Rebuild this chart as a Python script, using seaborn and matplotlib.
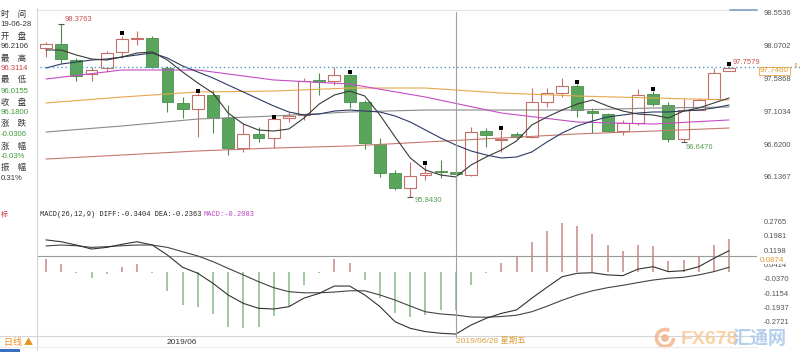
import numpy as np
import pandas as pd
import seaborn as sns
import matplotlib
matplotlib.use("Agg")
import matplotlib.pyplot as plt
import matplotlib.transforms as mtransforms
from matplotlib.lines import Line2D
from matplotlib.patches import Rectangle, Arc, Circle

# ---------------- data ----------------
opens = [98.022, 98.085, 97.850, 97.645, 97.729, 97.972, 98.161, 98.168, 97.738, 97.216,
         97.128, 97.338, 96.997, 96.566, 96.762, 96.704, 96.997, 97.045, 97.553, 97.547,
         97.631, 97.240, 96.616, 96.191, 95.971, 96.166, 96.228, 96.2106, 96.166, 96.811,
         96.682, 96.762, 96.727, 97.240, 97.363, 97.474, 97.104, 97.055, 96.811, 96.932,
         97.352, 97.191, 96.689, 97.118, 97.275, 97.689]
highs = [98.119, 98.3763, 97.875, 97.752, 97.982, 98.206, 98.275, 98.202, 97.763, 97.313,
         97.363, 97.411, 97.191, 96.923, 96.873, 96.986, 97.093, 97.582, 97.656, 97.752,
         97.645, 97.265, 96.704, 96.239, 96.361, 96.313, 96.386, 96.3114, 96.873, 96.850,
         96.825, 96.796, 97.436, 97.445, 97.582, 97.499, 97.143, 97.074, 96.971, 97.421,
         97.396, 97.240, 97.289, 97.289, 97.729, 97.7579]
lows = [97.899, 97.807, 97.543, 97.543, 97.679, 97.875, 98.070, 97.733, 97.093, 96.997,
        96.727, 96.777, 96.459, 96.507, 96.654, 96.562, 96.947, 96.972, 97.338, 97.484,
        97.143, 96.547, 96.141, 95.946, 95.843, 96.093, 96.118, 96.0155, 96.151, 96.581,
        96.507, 96.693, 96.715, 97.167, 97.313, 97.020, 96.777, 96.796, 96.752, 96.898,
        97.177, 96.654, 96.6476, 97.118, 97.275, 97.689]
closes = [98.085, 97.861, 97.621, 97.704, 97.949, 98.154, 98.168, 97.752, 97.231, 97.128,
          97.338, 96.997, 96.557, 96.762, 96.712, 96.982, 97.030, 97.543, 97.524, 97.631,
          97.240, 96.630, 96.200, 95.971, 96.151, 96.200, 96.2106, 96.1800, 96.800, 96.752,
          96.693, 96.727, 97.240, 97.363, 97.474, 97.118, 97.070, 96.811, 96.923, 97.338,
          97.206, 96.689, 97.118, 97.264, 97.665, 97.729]

ma5 = [97.997, 97.997, 97.924, 97.865, 97.850, 97.894, 97.953, 97.968, 97.850, 97.675,
       97.514, 97.367, 97.074, 96.913, 96.825, 96.810, 96.840, 97.001, 97.206, 97.338,
       97.396, 97.323, 97.045, 96.723, 96.415, 96.239, 96.166, 96.137, 96.312, 96.430,
       96.532, 96.664, 96.898, 97.016, 97.118, 97.206, 97.265, 97.177, 97.103, 97.059,
       97.045, 97.001, 97.103, 97.147, 97.221, 97.294]
ma10 = [97.733, 97.792, 97.821, 97.850, 97.865, 97.894, 97.924, 97.953, 97.880, 97.763,
        97.675, 97.587, 97.484, 97.382, 97.279, 97.177, 97.089, 97.045, 97.059, 97.103,
        97.118, 97.103, 97.089, 97.030, 96.942, 96.825, 96.708, 96.605, 96.518, 96.459,
        96.415, 96.430, 96.503, 96.649, 96.781, 96.884, 96.957, 97.016, 97.045, 97.074,
        97.089, 97.089, 97.103, 97.118, 97.147, 97.191]

long_idx = [0, 5, 10, 15, 20, 25, 30, 35, 40, 45]
ma_orange = [97.221, 97.308, 97.382, 97.396, 97.440, 97.440, 97.367, 97.323, 97.294, 97.265]
ma_magenta = [97.572, 97.704, 97.704, 97.558, 97.499, 97.308, 97.074, 96.942, 96.913, 96.972]
ma_gray = [96.796, 96.884, 96.986, 97.030, 97.089, 97.118, 97.118, 97.118, 97.147, 97.162]
ma_brown = [96.400, 96.459, 96.518, 96.561, 96.591, 96.649, 96.708, 96.767, 96.810, 96.854]

diff = [0.176, 0.166, 0.148, 0.126, 0.135, 0.152, 0.166, 0.148, 0.093, 0.026,
        -0.007, -0.062, -0.126, -0.172, -0.199, -0.203, -0.190, -0.143, -0.117, -0.077,
        -0.077, -0.126, -0.190, -0.273, -0.309, -0.327, -0.336, -0.3404, -0.291, -0.254,
        -0.227, -0.208, -0.144, -0.084, -0.026, -0.007, -0.004, -0.016, -0.020, 0.016,
        0.029, 0.002, 0.007, 0.029, 0.075, 0.117]
dea = [0.143, 0.148, 0.144, 0.135, 0.139, 0.144, 0.148, 0.148, 0.135, 0.111,
       0.088, 0.057, 0.020, -0.016, -0.053, -0.086, -0.108, -0.114, -0.114, -0.110,
       -0.103, -0.103, -0.126, -0.154, -0.187, -0.218, -0.230, -0.2363, -0.247, -0.248,
       -0.244, -0.237, -0.218, -0.188, -0.155, -0.126, -0.103, -0.086, -0.073, -0.058,
       -0.044, -0.034, -0.029, -0.016, 0.002, 0.026]
macd_hist = [0.07, 0.045, -0.005, -0.035, -0.01, 0.025, 0.045, -0.005, -0.105, -0.18,
             -0.19, -0.23, -0.30, -0.305, -0.30, -0.24, -0.19, -0.07, -0.005, 0.07,
             0.05, -0.045, -0.145, -0.225, -0.245, -0.235, -0.21, -0.2083, -0.07, -0.005,
             0.05, 0.085, 0.165, 0.225, 0.27, 0.25, 0.21, 0.15, 0.115, 0.15,
             0.14, 0.06, 0.065, 0.085, 0.15, 0.18]

price_ticks = [98.5536, 98.0702, 97.5868, 97.1034, 96.6200, 96.1367]
macd_ticks = [0.2765, 0.1981, 0.1198, 0.0414, -0.0370, -0.1154, -0.1937, -0.2721]
marker_idx = [5, 10, 15, 20, 25, 30, 35, 40, 45]
cross_idx = 27
cross_price = 97.7460
cross_macd = 0.0874

info_labels = ["时　间", "19-06-28", "开　盘", "96.2106", "最　高", "96.3114", "最　低", "96.0155",
               "收　盘", "96.1800", "涨　跌", "-0.0306", "涨　幅", "-0.03%", "振　幅", "0.31%"]
info_colors = ["#333333", "#333333", "#333333", "#333333", "#333333", "#cc4444", "#333333", "#3c9a3c",
               "#333333", "#3c9a3c", "#333333", "#3c9a3c", "#333333", "#3c9a3c", "#333333", "#333333"]

# ---------------- style ----------------
sns.set_theme(style="white")
plt.rcParams['font.family'] = ['Liberation Sans', 'Noto Sans CJK SC', 'DejaVu Sans']
CJK = ['Noto Sans CJK SC', 'DejaVu Sans']

W, H = 800, 362
def fx(px):
    return px / W
def fy(py):
    return 1 - py / H

fig = plt.figure(figsize=(8, 3.62), dpi=100, facecolor="white")
ax = fig.add_axes([fx(37), fy(205), fx(757) - fx(37), fy(10) - fy(205)])
axm = fig.add_axes([fx(37), fy(336), fx(757) - fx(37), fy(208) - fy(336)])

idx = np.arange(len(opens))
o = np.array(opens); c = np.array(closes); h = np.array(highs); l = np.array(lows)
up = c >= o
dn = ~up

UPC = "#c27068"
GREEN = "#5aa55c"
GREEN_E = "#4a8e4c"

# wicks
ax.vlines(idx[up], l[up], h[up], colors=UPC, lw=0.8, zorder=2)
ax.vlines(idx[dn], l[dn], h[dn], colors=GREEN_E, lw=0.8, zorder=2)
# bodies
ax.bar(idx[up], c[up] - o[up], bottom=o[up], width=0.78, facecolor="white",
       edgecolor=UPC, linewidth=0.8, zorder=3)
ax.bar(idx[dn], c[dn] - o[dn], bottom=o[dn], width=0.78, facecolor=GREEN,
       edgecolor=GREEN_E, linewidth=0.6, zorder=3)

# moving averages
df = pd.DataFrame({"i": idx, "ma5": ma5, "ma10": ma10})
dfl = pd.DataFrame({"i": long_idx, "orange": ma_orange, "magenta": ma_magenta,
                    "gray": ma_gray, "brown": ma_brown})
sns.lineplot(data=dfl, x="i", y="brown", ax=ax, color="#c4796c", lw=0.8, zorder=4)
sns.lineplot(data=dfl, x="i", y="gray", ax=ax, color="#8a8a8a", lw=0.8, zorder=4)
sns.lineplot(data=dfl, x="i", y="orange", ax=ax, color="#e6a84c", lw=0.8, zorder=4)
sns.lineplot(data=dfl, x="i", y="magenta", ax=ax, color="#c64cc6", lw=0.8, zorder=4)
sns.lineplot(data=df, x="i", y="ma10", ax=ax, color="#2b3b62", lw=0.8, zorder=5)
sns.lineplot(data=df, x="i", y="ma5", ax=ax, color="#3a3a3a", lw=0.8, zorder=5)

# period markers
mk = np.array(marker_idx)
ax.scatter(mk, h[mk] + 0.035, marker="s", s=7, color="black", zorder=6, linewidths=0)

# extreme annotations
ann = dict(textcoords="offset points", fontsize=5.5, va="center", ha="left", annotation_clip=False)
ax.annotate("98.3763", xy=(1, highs[1]), xytext=(2.4, 3.2), color="#c0504d", **ann)
ax.annotate("95.8430", xy=(24, lows[24]), xytext=(3.0, -2.4), color="#5a9e5a", **ann)
ax.annotate("96.6476", xy=(42, lows[42]), xytext=(1.8, -3.6), color="#5a9e5a", **ann)
ax.annotate("97.7579", xy=(45, highs[45]), xytext=(2.2, 3.1), color="#c0504d", **ann)
ax.plot([1], [highs[1]], marker="_", ms=4, color="#555555", mew=0.8, zorder=6)
ax.plot([24], [lows[24]], marker="_", ms=4, color="#555555", mew=0.8, zorder=6)
ax.plot([42], [lows[42]], marker="_", ms=4, color="#555555", mew=0.8, zorder=6)

ax.set_xlim(-0.593, 46.84)
ax.set_ylim(95.7265, 98.583)

# MACD panel
hist = np.array(macd_hist)
pos = hist >= 0
axm.vlines(idx[pos], 0, hist[pos], colors="#c98686", lw=1.1, zorder=2)
axm.vlines(idx[~pos], 0, hist[~pos], colors="#86bb86", lw=1.1, zorder=2)
dfm = pd.DataFrame({"i": idx, "diff": diff, "dea": dea})
sns.lineplot(data=dfm, x="i", y="dea", ax=axm, color="#444444", lw=0.8, zorder=4)
sns.lineplot(data=dfm, x="i", y="diff", ax=axm, color="#333333", lw=0.8, zorder=4)
axm.axhline(cross_macd, color="#9a9a9a", lw=0.8, zorder=3)
axm.set_xlim(-0.593, 46.84)
axm.set_ylim(-0.351, 0.351)

for a, ticks in ((ax, price_ticks), (axm, macd_ticks)):
    a.set_xlabel(""); a.set_ylabel("")
    a.set_xticks([])
    a.yaxis.tick_right()
    a.set_yticks(ticks)
    a.set_yticklabels([f"{t:.4f}" for t in ticks])
    a.tick_params(axis="y", length=0, pad=4.5, labelsize=5.5, labelcolor="#555555")
    for s in a.spines.values():
        s.set_visible(False)
    a.set_facecolor("white")
ax.spines["top"].set_visible(True); ax.spines["top"].set_color("#e4e4e4"); ax.spines["top"].set_linewidth(0.8)
axm.spines["bottom"].set_visible(True); axm.spines["bottom"].set_color("#d4d4d4"); axm.spines["bottom"].set_linewidth(0.8)

# crosshair lines
tr_py = mtransforms.blended_transform_factory(fig.transFigure, ax.transData)
fig.add_artist(Line2D([fx(40), fx(800)], [cross_price, cross_price], transform=tr_py,
                      color="#4a9fcc", lw=1.0, ls=(0, (1, 2)), zorder=7))
tr_vx = mtransforms.blended_transform_factory(ax.transData, fig.transFigure)
fig.add_artist(Line2D([cross_idx, cross_idx], [fy(12), fy(337)], transform=tr_vx,
                      color="#a0a0a0", lw=0.8, zorder=7))

# crosshair value labels
fig.text(fx(760), fy(71), "97.7460", fontsize=5.8, color="#e0992e", va="center", ha="left",
         bbox=dict(boxstyle="square,pad=0.12", fc="white", ec="#e8b060", lw=0.7), zorder=10)
fig.text(fx(796), fy(66), "⇕", fontsize=5, color="#e0992e", va="center", ha="center",
         family=['DejaVu Sans'], zorder=10)
fig.text(fx(760), fy(260), "0.0874", fontsize=5.8, color="#e0992e", va="center", ha="left",
         bbox=dict(boxstyle="square,pad=0.1", fc="white", ec="none"), zorder=10)

# left border / frame lines
fig.add_artist(Line2D([fx(37), fx(37)], [fy(8), fy(350)], color="#d4d4d4", lw=0.8))
fig.add_artist(Line2D([fx(0), fx(757)], [fy(347), fy(347)], color="#ececec", lw=0.8))
fig.add_artist(Line2D([fx(0), fx(37)], [fy(336), fy(336)], color="#d4d4d4", lw=0.8))
fig.add_artist(Rectangle((fx(0), fy(352)), fx(20), fy(349) - fy(352), transform=fig.transFigure,
                         color="#3b6fc2", lw=0))
fig.add_artist(Line2D([fx(730), fx(757)], [fy(10), fy(10)], color="#7f9fc4", lw=1.2))

# left info column
info_y = [14, 25, 36, 47, 58, 68, 79, 91, 102, 113, 123, 135, 146, 156, 167, 178]
for k, (txt, col, py) in enumerate(zip(info_labels, info_colors, info_y)):
    if k % 2 == 0:
        fig.text(fx(1), fy(py), txt, fontsize=6, color=col, va="center", ha="left", family=CJK)
    else:
        fig.text(fx(0.5), fy(py), txt, fontsize=5.6, color=col, va="center", ha="left")

fig.text(fx(0.5), fy(215), "标", fontsize=5, color="#cc3333", va="center", ha="left", family=CJK)

# MACD legend
fig.text(fx(40), fy(215), "MACD(26,12,9) DIFF:-0.3404 DEA:-0.2363", fontsize=5.0,
         family=["Liberation Mono", "DejaVu Sans Mono"], color="#222222", va="center", ha="left")
fig.text(fx(204), fy(215), "MACD:-0.2083", fontsize=5.0,
         family=["Liberation Mono", "DejaVu Sans Mono"], color="#c040c0", va="center", ha="left")

# bottom strip
fig.text(fx(4), fy(343), "日线 ▲", fontsize=6.5, color="#e8901a", va="center", ha="left", family=CJK)
fig.text(fx(182), fy(342), "2019/06", fontsize=6, color="#333333", va="center", ha="center")
fig.text(fx(456), fy(341), "2019/06/28 星期五", fontsize=6, color="#d9a040", va="center", ha="left",
         family=["Liberation Sans", "Noto Sans CJK SC"])

# watermark
idt = mtransforms.IdentityTransform()
fig.add_artist(Arc((665, H - 338), 17, 17, theta1=60, theta2=360, transform=idt,
                   color="#f4b183", lw=2.6, alpha=0.8))
fig.add_artist(Circle((665, H - 338), 3.2, transform=idt, color="#f4b183", alpha=0.8))
fig.text(fx(681), fy(339), "FX678", fontsize=14, color="#f8c68c", alpha=0.8, va="center", ha="left",
         family=["Liberation Sans Narrow", "Liberation Sans"], weight="bold")
fig.text(fx(733), fy(339), "汇通网", fontsize=13, color="#a8c6ec", alpha=0.85, va="center", ha="left",
         family=CJK, weight="bold")

fig.savefig("out.png", dpi=100, facecolor="white")
